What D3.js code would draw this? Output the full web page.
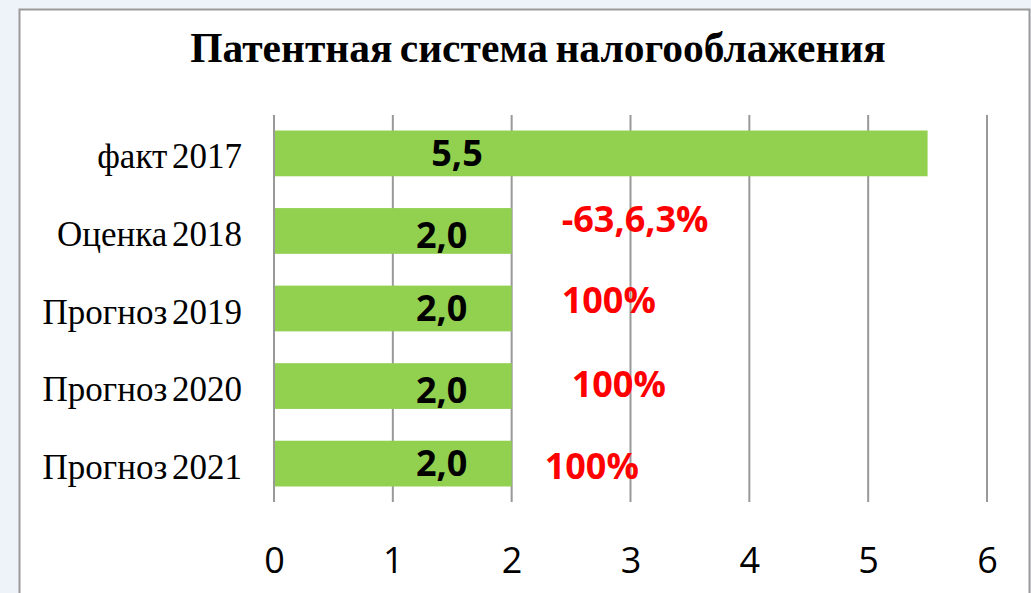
<!DOCTYPE html>
<html>
<head>
<meta charset="utf-8">
<script src="https://cdn.jsdelivr.net/npm/d3@7"></script>
<style>
    body { margin: 0; background: #eef2f9; }
    svg { display: block; }
</style>
</head>
<body>
<div id="chart-area"></div>
<script>
// chart data
let categories = ["факт 2017", "Оценка 2018", "Прогноз 2019", "Прогноз 2020", "Прогноз 2021"];
let values = [5.5, 2.0, 2.0, 2.0, 2.0];
let valueLabels = ["5,5", "2,0", "2,0", "2,0", "2,0"];
let changeLabels = ["", "-63,6,3%", "100%", "100%", "100%"];
// label offsets as they sit in the source (x offset from bar end, y offset from band centre)
let changeDx = [0, 50, 50, 60, 33];
let changeDy = [0, 1, 4, 11, 15];
let valueDy = [13, 17, 12, 17, 12];
let ticks = [0, 1, 2, 3, 4, 5, 6];

let width = 1031, height = 593;

let svg = d3.select("#chart-area").append("svg")
    .attr("width", width)
    .attr("height", height);

// chart frame
svg.append("rect")
    .attr("x", 19.5)
    .attr("y", 9.5)
    .attr("width", 1010)
    .attr("height", 600)
    .attr("fill", "#ffffff")
    .attr("stroke", "#9a9a9a")
    .attr("stroke-width", 2);

// title
svg.append("text")
    .attr("x", 538)
    .attr("y", 62)
    .attr("text-anchor", "middle")
    .attr("font-family", "'Liberation Serif', 'Times New Roman', serif")
    .attr("font-weight", "bold")
    .attr("font-size", 41.5)
    .attr("word-spacing", -3)
    .attr("fill", "#000")
    .text("Патентная система налогооблажения");

let x = d3.scaleLinear()
    .domain([0, 6])
    .range([274, 987]);

let y = d3.scaleBand()
    .domain(categories)
    .range([115, 502])
    .paddingInner(0.41)
    .paddingOuter(0.2);

// vertical gridlines
svg.append("g")
    .selectAll("line")
    .data(ticks)
    .enter().append("line")
    .attr("x1", d => x(d))
    .attr("x2", d => x(d))
    .attr("y1", 115)
    .attr("y2", 502)
    .attr("stroke", "#999999")
    .attr("stroke-width", 2);

// bars
svg.append("g")
    .selectAll("rect")
    .data(values)
    .enter().append("rect")
    .attr("x", x(0) + 1)
    .attr("y", (d, i) => y(categories[i]))
    .attr("height", y.bandwidth())
    .attr("width", d => x(d) - x(0) - 1)
    .attr("fill", "#92d050");

// x axis labels
let xAxis = d3.axisBottom(x)
    .tickValues(ticks)
    .tickSize(0)
    .tickPadding(0)
    .tickFormat(d3.format("d"));

let axisGroup = svg.append("g")
    .attr("transform", "translate(0, 545)")
    .call(xAxis);
axisGroup.select(".domain").remove();
axisGroup.selectAll("text")
    .attr("font-family", "'Open Sans', 'Noto Sans', sans-serif")
    .attr("font-size", 36)
    .attr("fill", "#000")
    .attr("dy", "0.78em");

// category labels
svg.append("g")
    .selectAll("text")
    .data(categories)
    .enter().append("text")
    .attr("x", 242)
    .attr("y", d => y(d) + y.bandwidth() / 2 + 15)
    .attr("text-anchor", "end")
    .attr("font-family", "'Liberation Serif', 'Times New Roman', serif")
    .attr("font-size", 35)
    .attr("word-spacing", -4)
    .attr("fill", "#000")
    .text(d => d);

// value labels
svg.append("g")
    .selectAll("text")
    .data(values)
    .enter().append("text")
    .attr("x", (d, i) => i === 0 ? 457 : x(d) - 70)
    .attr("y", (d, i) => y(categories[i]) + y.bandwidth() / 2 + valueDy[i])
    .attr("text-anchor", "middle")
    .attr("font-family", "'Open Sans', 'Noto Sans', sans-serif")
    .attr("font-weight", "bold")
    .attr("font-size", 36)
    .attr("fill", "#000")
    .text((d, i) => valueLabels[i]);

// change labels
svg.append("g")
    .selectAll("text")
    .data(values)
    .enter().append("text")
    .attr("x", (d, i) => x(d) + changeDx[i])
    .attr("y", (d, i) => y(categories[i]) + y.bandwidth() / 2 + changeDy[i])
    .attr("font-family", "'Open Sans', 'Noto Sans', sans-serif")
    .attr("font-weight", "bold")
    .attr("font-size", 36)
    .attr("fill", "#ff0000")
    .text((d, i) => changeLabels[i]);
</script>
</body>
</html>
